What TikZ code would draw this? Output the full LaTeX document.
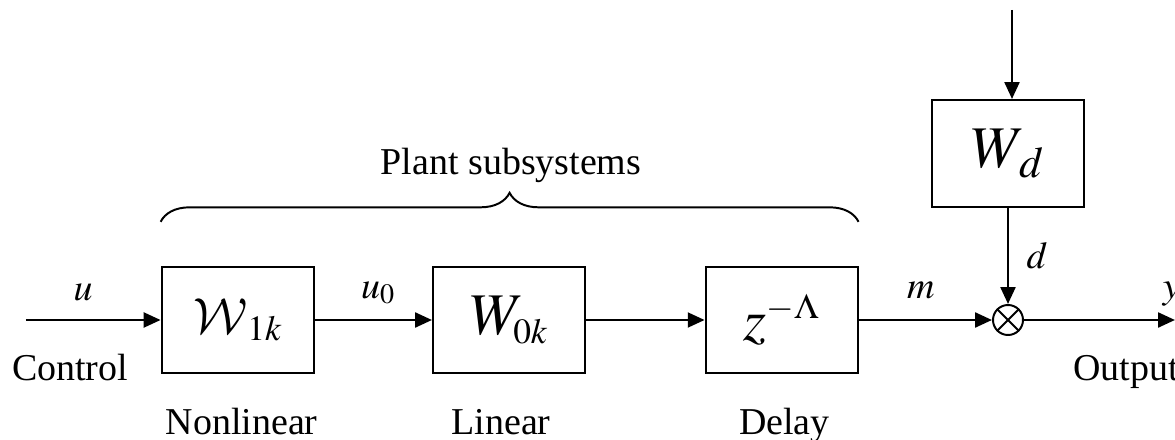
\documentclass[tikz,border=0pt]{standalone}
\usepackage{mathptmx}
\usepackage[no-math]{fontspec}
\setmainfont{Liberation Serif}
\usetikzlibrary{arrows.meta, positioning, decorations.pathreplacing}
\DeclareMathAlphabet{\mathcalW}{OMS}{lmsy}{m}{n}

\begin{document}
\begin{tikzpicture}[
    block/.style={draw,line width=1.4pt,minimum width=3.8cm,minimum height=2.66cm,
      inner sep=0pt,font=\fontsize{42}{50}\selectfont},
    mult/.style={draw,circle,line width=1.4pt,minimum size=0.75cm,inner sep=0pt,
      path picture={\draw[line width=1.4pt]
        (path picture bounding box.north west) -- (path picture bounding box.south east)
        (path picture bounding box.north east) -- (path picture bounding box.south west);}},
    sig/.style={anchor=base,inner sep=0pt},
    arrow/.style={-{Triangle[length=12pt,width=10.5pt]},line width=1.9pt},
    font=\fontsize{27}{32}\selectfont
  ]
  \useasboundingbox (0,0) rectangle (29.375,-11);

  % Plant chain
  \node[block] (nonlin) at (5.94,-8)
    {$\vcenter{\hbox{\scalebox{1.45}{$\mathcalW{W}$}}}_{\scriptscriptstyle 1k}$};
  \node[block] (lin) at (12.725,-8) {$W_{\scriptscriptstyle 0k}$};
  \node[block] (delay) at (19.54,-8) {$z^{\scriptscriptstyle -\Lambda}$};

  % Disturbance branch
  \node[block,minimum height=2.68cm] (dist) at (25.2,-3.84) {$W_{\,d}$};
  \node[mult] (mult) at (25.2,-8) {};

  \coordinate (in) at (0.65,-8);
  \coordinate (out) at (29.375,-8);
  \coordinate (dtop) at (25.3,-0.25);

  \draw[arrow] (in) -- (nonlin);
  \draw[arrow] (nonlin) -- (lin);
  \draw[arrow] (lin) -- (delay);
  \draw[arrow] (delay) -- (mult);
  \draw[arrow] (mult) -- (out);
  \draw[arrow] (dtop) -- (dtop |- dist.north);
  \draw[arrow] (dist) -- (mult);

  % Signals
  \node[sig] (usig) at (2.075,-7.5) {$u$};
  \node[sig] (u0sig) at (9.45,-7.45) {$u_0$};
  \node[sig] (msig) at (23.02,-7.45) {$m$};
  \node[sig] (dsig) at (25.925,-6.7) {$d$};
  \node[sig] (ysig) at (29.28,-7.45) {$y$};

  \node[sig] (ctrl) at (1.75,-9.5) {Control};
  \node[sig,anchor=base west] (outp) at (26.825,-9.5) {Output};

  \node[sig] (nllbl) at (6.04,-10.85) {Nonlinear};
  \node[sig] (linlbl) at (12.525,-10.85) {Linear};
  \node[sig] (dellbl) at (19.61,-10.85) {Delay};

  % Plant brace
  \draw[line width=1.4pt,decorate,decoration={brace,amplitude=0.725cm}]
    ([yshift=1.1cm]nonlin.north west) -- ([yshift=1.1cm]delay.north east);
  \node[sig] (plant) at (12.775,-4.375) {Plant subsystems};
\end{tikzpicture}
\end{document}
